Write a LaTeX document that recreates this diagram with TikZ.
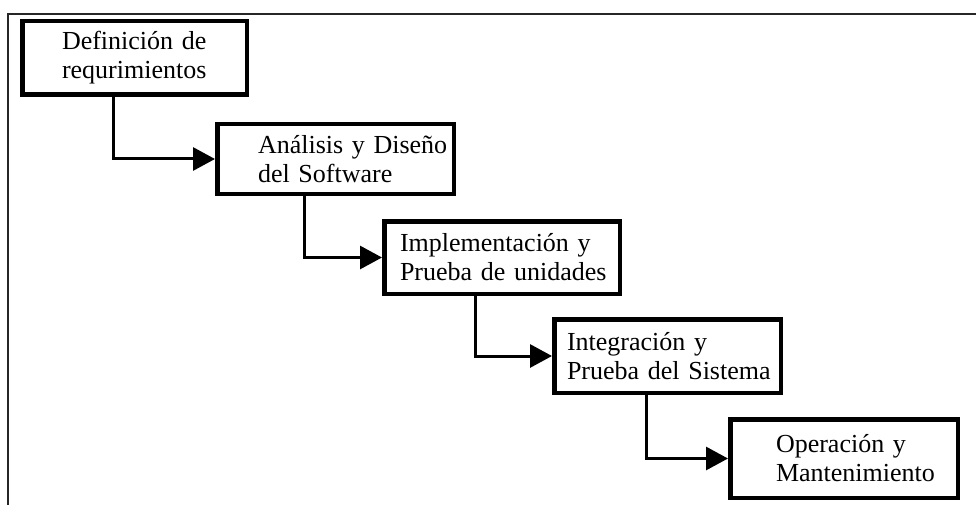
\documentclass[tikz,border=0pt]{standalone}
\usepackage{fontspec}
\setmainfont{Liberation Serif}
\usetikzlibrary{positioning,arrows.meta}

\begin{document}
\begin{tikzpicture}[stage/.style={draw,line width=4.5pt,align=left,inner ysep=0pt,font={\fontsize{26}{29}\selectfont\hyphenpenalty=10000}},
  flow/.style={line width=3pt,-{Triangle[length=22pt,width=23pt]}}]
  \useasboundingbox (0,0) rectangle (976pt,-505pt);
  \draw[line width=2pt,black!85] (7.5pt,-505pt) |- (976pt,-14pt);

  \node[stage,anchor=north west,text width=145pt,inner xsep=39.75pt,minimum height=73.5pt] (req) at (20pt,-19pt) {Definición~de\\requrimientos};
  \node[stage,text width=155pt,inner xsep=40.75pt,minimum height=69.5pt] (diseno) [below right=25pt and 195pt of req.south west] {Análisis~y~Diseño\\del~Software};
  \node[stage,text width=204pt,inner xsep=15.75pt,minimum height=72.5pt] (impl) [below right=23pt and 167pt of diseno.south west] {Implementación~y\\Prueba~de~unidades};
  \node[stage,text width=201pt,inner xsep=12.75pt,minimum height=73.5pt] (integ) [below right=21pt and 170pt of impl.south west] {Integración~y\\Prueba~del~Sistema};
  \node[stage,text width=136pt,inner xsep=45.75pt,minimum height=78.5pt] (oper) [below right=22pt and 176pt of integ.south west] {Operación~y\\Mantenimiento};

  \draw[flow] ([xshift=93pt]req.south west) |- (diseno.west);
  \draw[flow] ([xshift=89pt]diseno.south west) |- (impl.west);
  \draw[flow] ([xshift=93pt]impl.south west) |- (integ.west);
  \draw[flow] ([xshift=94pt]integ.south west) |- (oper.west);
\end{tikzpicture}
\end{document}
